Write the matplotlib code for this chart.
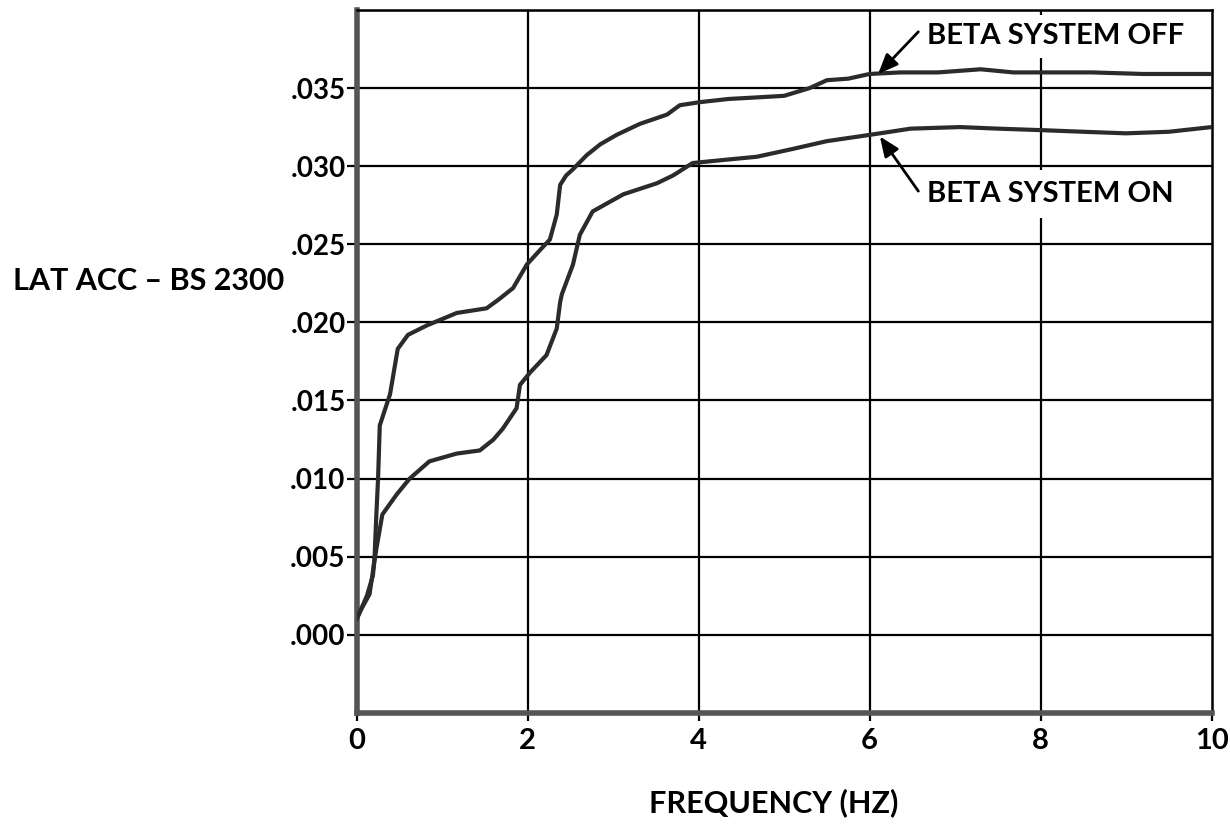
import numpy as np
import matplotlib
matplotlib.use("Agg")
import matplotlib.pyplot as plt

plt.rcParams['font.family'] = ['Lato', 'DejaVu Sans']
plt.rcParams['font.weight'] = 'bold'

# curve (frequency in Hz, lateral acceleration)
off_freq = [0.00, 0.04, 0.12, 0.19, 0.21, 0.23, 0.25, 0.27, 0.39, 0.48,
            0.60, 0.82, 1.17, 1.52, 1.67, 1.83, 1.99, 2.14, 2.26, 2.34,
            2.38, 2.45, 2.53, 2.69, 2.85, 3.04, 3.31, 3.63, 3.78, 4.02,
            4.35, 4.68, 5.00, 5.30, 5.50, 5.75, 6.00, 6.36, 6.80, 7.30,
            7.68, 8.03, 8.60, 9.20, 10.0]
off_acc = [0.0010, 0.0015, 0.0025, 0.0038, 0.0051, 0.0077, 0.0100, 0.0134, 0.0154, 0.0183,
           0.0192, 0.0198, 0.0206, 0.0209, 0.0215, 0.0222, 0.0237, 0.0246, 0.0253, 0.0269,
           0.0288, 0.0294, 0.0298, 0.0307, 0.0314, 0.0320, 0.0327, 0.0333, 0.0339, 0.0341,
           0.0343, 0.0344, 0.0345, 0.0350, 0.0355, 0.0356, 0.0359, 0.0360, 0.0360, 0.0362,
           0.0360, 0.0360, 0.0360, 0.0359, 0.0359]

on_freq = [0.00, 0.04, 0.15, 0.23, 0.30, 0.47, 0.62, 0.85, 1.17, 1.44,
           1.60, 1.71, 1.87, 1.91, 2.03, 2.22, 2.34, 2.38, 2.40, 2.53,
           2.61, 2.76, 3.12, 3.51, 3.70, 3.93, 4.30, 4.68, 5.10, 5.50,
           6.00, 6.48, 7.06, 7.50, 8.03, 8.50, 9.00, 9.50, 10.0]
on_acc = [0.0010, 0.0015, 0.0026, 0.0055, 0.0077, 0.0090, 0.0100, 0.0111, 0.0116, 0.0118,
          0.0125, 0.0132, 0.0145, 0.0160, 0.0168, 0.0179, 0.0196, 0.0213, 0.0218, 0.0237,
          0.0256, 0.0271, 0.0282, 0.0289, 0.0294, 0.0302, 0.0304, 0.0306, 0.0311, 0.0316,
          0.0320, 0.0324, 0.0325, 0.0324, 0.0323, 0.0322, 0.0321, 0.0322, 0.0325]

x_ticks = [0, 2, 4, 6, 8, 10]
y_ticks = [0.000, 0.005, 0.010, 0.015, 0.020, 0.025, 0.030, 0.035]
y_labels = ['.000', '.005', '.010', '.015', '.020', '.025', '.030', '.035']

fig = plt.figure(figsize=(12.30, 8.27), dpi=100)
ax = fig.add_axes([0.290, 0.138, 0.695, 0.850])

ax.set_xlim(0, 10)
ax.set_ylim(-0.005, 0.040)

# grid: every 2 Hz and every .005
for gx in x_ticks[1:-1]:
    ax.axvline(gx, color='black', lw=1.6, zorder=1)
for gy in np.arange(0.0, 0.0401, 0.005):
    ax.axhline(gy, color='black', lw=1.6, zorder=1)

ax.plot(off_freq, off_acc, color='#2b2b2b', lw=3.0, zorder=3, solid_capstyle='round')
ax.plot(on_freq, on_acc, color='#2b2b2b', lw=3.0, zorder=3, solid_capstyle='round')

ax.set_xticks(x_ticks)
ax.set_xticklabels([str(t) for t in x_ticks], fontsize=21, fontweight='bold')
ax.set_yticks(y_ticks)
ax.set_yticklabels(y_labels, fontsize=20, fontweight='bold')
ax.tick_params(axis='y', length=7, width=1.6, pad=1, color='black')
ax.tick_params(axis='x', length=6, width=1.6, pad=5, color='black')

for side in ['left', 'bottom']:
    ax.spines[side].set_linewidth(4.0)
    ax.spines[side].set_color('#555555')
for side in ['top', 'right']:
    ax.spines[side].set_linewidth(1.8)
    ax.spines[side].set_color('black')

# white boxes break the 8 Hz grid line behind the labels, as in the scan
ax.text(6.67, 0.0383, 'BETA SYSTEM OFF', fontsize=21, fontweight='bold',
        va='center', ha='left', bbox=dict(facecolor='white', edgecolor='none', pad=6),
        zorder=4)
ax.text(6.67, 0.0282, 'BETA SYSTEM ON', fontsize=21, fontweight='bold',
        va='center', ha='left', bbox=dict(facecolor='white', edgecolor='none', pad=8),
        zorder=4)

arrow = dict(arrowstyle='-|>,head_length=0.6,head_width=0.25', color='black', lw=2.0,
             mutation_scale=20, shrinkA=0, shrinkB=0)
ax.annotate('', xy=(6.10, 0.0359), xytext=(6.57, 0.0386), arrowprops=arrow, zorder=5)
ax.annotate('', xy=(6.12, 0.0319), xytext=(6.57, 0.0284), arrowprops=arrow, zorder=5)

fig.text(13 / 1230, 1 - 281 / 827, 'LAT ACC \u2013 BS 2300', fontsize=22,
         fontweight='bold', ha='left', va='center')
fig.text(774 / 1230, 1 - 803 / 827, 'FREQUENCY (HZ)', fontsize=22,
         fontweight='bold', ha='center', va='center')

fig.savefig('out.png', dpi=100)
